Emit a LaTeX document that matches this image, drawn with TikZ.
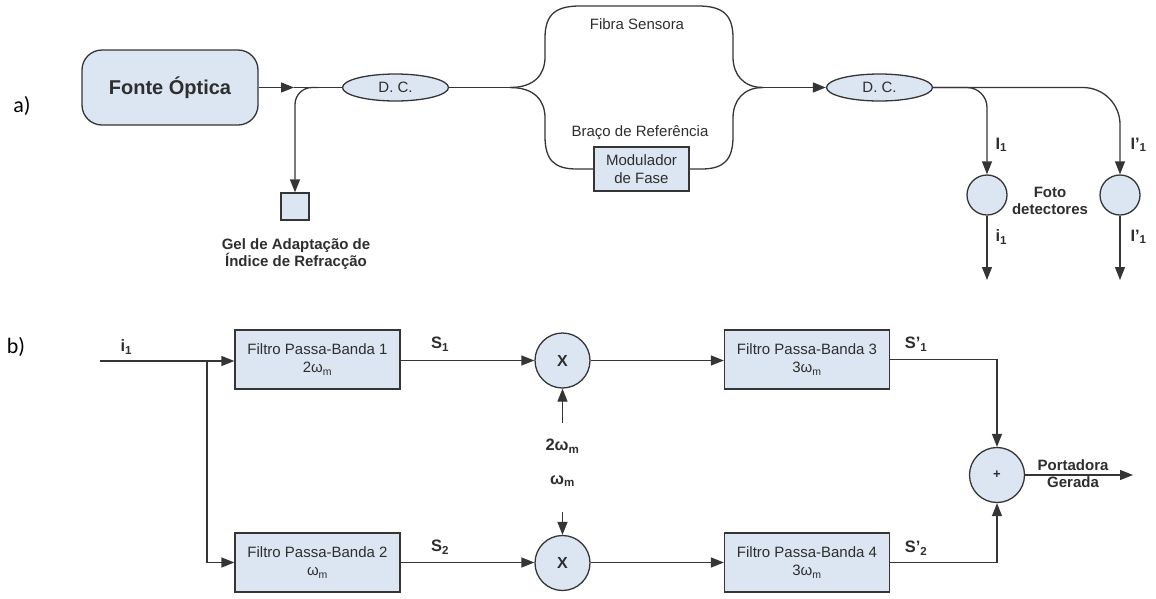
\documentclass[tikz,border=0pt]{standalone}
\usepackage{fontspec}
\setmainfont{Liberation Sans}
\newfontfamily\partfont{Carlito}
\usetikzlibrary{arrows.meta,shapes.geometric}

\definecolor{linec}{HTML}{353535}
\definecolor{boxfill}{HTML}{DCE6F2}
\definecolor{txt}{HTML}{2E2E2E}

\begin{document}
\begin{tikzpicture}[x=1pt,y=-1pt,
  wire/.style={draw=linec, line width=1.3pt},
  arr/.style={wire, -{Triangle[length=13pt,width=10pt]}},
  blk/.style={draw=linec, fill=boxfill, line width=1.3pt, inner sep=0pt,
    text=txt, align=center, font=\fontsize{15}{18}\selectfont},
  srcbox/.style={blk, rounded corners=20pt, minimum width=176pt, minimum height=75pt,
    font=\bfseries\fontsize{20}{24}\selectfont},
  coupler/.style={blk, ellipse, minimum width=106pt, minimum height=27pt},
  gelbox/.style={blk, minimum width=28pt, minimum height=27pt},
  modbox/.style={blk, minimum width=95pt, minimum height=44pt},
  detector/.style={blk, circle, minimum size=40pt},
  filt/.style={blk, minimum width=165pt, minimum height=59pt},
  mixer/.style={blk, circle, minimum size=55pt, font=\bfseries\fontsize{16}{18}\selectfont},
  plain/.style={text=txt, font=\fontsize{15}{18}\selectfont, align=center},
  note/.style={text=txt, font=\bfseries\fontsize{15}{17}\selectfont, align=center},
  sig/.style={text=txt, font=\bfseries\fontsize{16.5}{18}\selectfont},
  part/.style={text=black, font=\partfont\fontsize{22}{24}\selectfont}
]
\useasboundingbox (0,0) rectangle (1156,598);

% ---------------- a) interferometer ----------------
\node[part] (pa) at (22,106) {a)};
\node[srcbox] (src) at (170,87.5) {Fonte Óptica};
\node[coupler] (dc1) at (395.5,87.5) {D. C.};
\coordinate (tip1) at (294,87.5);
\draw[arr] (src.east) -- (tip1);
\draw[wire] (tip1) -- (dc1.west);

% index-matching gel branch
\node[gelbox] (gel) at (295,206.5) {};
\coordinate (b0) at (318,87.5);
\draw[arr, rounded corners=17pt] (b0) -| (gel.north);
\node[note] (gellbl) at (296,254) {Gel de Adaptação de\\Índice de Refracção};

% the two arms
\coordinate (j1) at (510,87.5);
\coordinate (j2) at (763,87.5);
\draw[wire] (dc1.east) -- (j1);
\draw[wire] (j1) .. controls (535,87.5) and (545,74) .. (545,57) -- (545,38)
  .. controls (545,14) and (556,6) .. (580,6) -- (698,6)
  .. controls (722,6) and (733,14) .. (733,38) -- (733,57)
  .. controls (733,74) and (743,87.5) .. (j2);
\node[plain] (fs) at (637,24) {Fibra Sensora};

\node[modbox] (mod) at (641.5,169) {Modulador\\de Fase};
\draw[wire] (j1) .. controls (535,87.5) and (545,101) .. (545,118) -- (545,136)
  .. controls (545,160) and (554,169) .. (577,169) -- (mod.west);
\draw[wire] (mod.east) -- (701,169)
  .. controls (724,169) and (733,160) .. (733,136) -- (733,118)
  .. controls (733,101) and (743,87.5) .. (j2);
\node[plain] (br) at (640,133) {Braço de Referência};

% output coupler and photodetectors
\node[coupler] (dc2) at (879.5,87.5) {D. C.};
\draw[arr] (j2) -- (dc2.west);
\node[detector] (pd1) at (987,195) {};
\node[detector] (pd2) at (1120,195) {};
\draw[arr, rounded corners=20pt] (dc2.east) -| (pd1.north);
\draw[arr, rounded corners=37pt] (dc2.east) -| (pd2.north);
\coordinate (o1) at (987,280);
\coordinate (o2) at (1120,280);
\draw[arr] (pd1.south) -- (o1);
\draw[arr] (pd2.south) -- (o2);
\node[sig, anchor=west] (I1) at (992,145) {I\textsubscript{1}};
\node[sig, anchor=west] (i1a) at (992,237) {i\textsubscript{1}};
\node[sig, anchor=west] (Ip1) at (1127,145) {I'\textsubscript{1}};
\node[sig, anchor=west] (Ip1b) at (1127,237) {I'\textsubscript{1}};
\node[note] (foto) at (1050,201) {Foto\\detectores};

% ---------------- b) carrier generation ----------------
\node[part] (pb) at (16,347) {b)};
\coordinate (in) at (100,361);
\node[filt] (f1) at (317.5,359.5) {Filtro Passa-Banda 1\\2ω\textsubscript{m}};
\node[filt] (f2) at (317.5,562.5) {Filtro Passa-Banda 2\\ω\textsubscript{m}};
\draw[arr] (in) -- (f1.west |- in);
\coordinate (br0) at (207,361);
\draw[arr] (br0) |- (f2.west);
\node[sig, anchor=west] (lin) at (117,347) {i\textsubscript{1}};

\node[mixer] (m1) at (562.5,360.5) {X};
\node[mixer] (m2) at (562.5,563) {X};
\draw[arr] (f1.east |- m1) -- (m1.west);
\draw[arr] (f2.east) -- (m2.west |- f2.east);
\node[sig] (s1) at (440,344) {S\textsubscript{1}};
\node[sig] (s2) at (440,547) {S\textsubscript{2}};

\coordinate (lo1) at (562.5,423);
\coordinate (lo2) at (562.5,512);
\draw[arr] (lo1) -- (m1.south);
\draw[arr] (lo2) -- (m2.north);
\node[sig] (w2) at (562.5,446) {2ω\textsubscript{m}};
\node[sig] (w1) at (562.5,481) {ω\textsubscript{m}};

\node[filt] (f3) at (807,359.5) {Filtro Passa-Banda 3\\3ω\textsubscript{m}};
\node[filt] (f4) at (807,562.5) {Filtro Passa-Banda 4\\3ω\textsubscript{m}};
\draw[arr] (m1.east) -- (f3.west |- m1.east);
\draw[arr] (m2.east |- f4.west) -- (f4.west);
\node[sig] (sp1) at (916,344) {S'\textsubscript{1}};
\node[sig] (sp2) at (916,548) {S'\textsubscript{2}};

\node[mixer] (sum) at (997,475) {\fontsize{13}{14}\selectfont +};
\draw[arr] (f3.east) -| (sum.north);
\draw[arr] (f4.east) -| (sum.south);
\coordinate (out) at (1133,475);
\draw[arr] (sum.east) -- (out);
\node[note] (port) at (1073,474) {Portadora\\Gerada};
\end{tikzpicture}
\end{document}
